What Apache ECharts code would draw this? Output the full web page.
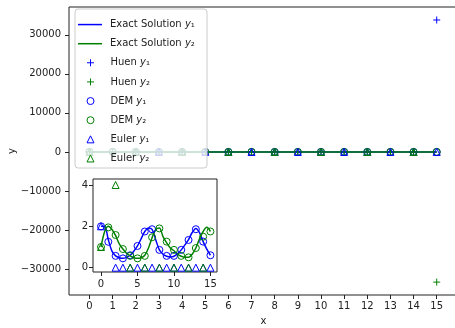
<!DOCTYPE html>
<html>
<head>
<meta charset="utf-8">
<script src="https://cdn.jsdelivr.net/npm/echarts@6/dist/echarts.min.js"></script>
<style>
  html, body { margin: 0; padding: 0; background: #fff; }
  #chart { width: 455px; height: 328px; }
</style>
</head>
<body>
<div id="chart"></div>
<script>
// sample points
const xInt = [0, 1, 2, 3, 4, 5, 6, 7, 8, 9, 10, 11, 12, 13, 14, 15];
const xFine = [0, 0.5, 1, 1.5, 2, 2.5, 3, 3.5, 4, 4.5, 5, 5.5, 6, 6.5, 7, 7.5,
  8, 8.5, 9, 9.5, 10, 10.5, 11, 11.5, 12, 12.5, 13, 13.5, 14, 14.5, 15];

// exact solution
const exactY1 = [2.0, 2.0, 1.35, 0.8, 0.57, 0.48, 0.45, 0.5, 0.6, 0.8, 1.05, 1.4, 1.75, 1.92, 1.85, 1.35,
  0.86, 0.65, 0.55, 0.52, 0.55, 0.68, 0.86, 1.1, 1.36, 1.7, 1.9, 1.7, 1.26, 0.9, 0.6];
const exactY2 = [1.0, 1.75, 2.0, 1.85, 1.55, 1.15, 0.9, 0.7, 0.57, 0.48, 0.45, 0.48, 0.6, 0.95, 1.45, 1.85,
  1.92, 1.5, 1.2, 0.95, 0.82, 0.65, 0.55, 0.5, 0.5, 0.65, 0.95, 1.4, 1.75, 1.95, 1.75];

// Huen: near zero until it blows up at x = 15
const huenY1 = [2.0, 1.4, 0.7, 0.5, 0.6, 1.1, 1.7, 1.8, 0.9, 0.6, 0.6, 0.9, 1.4, 1.8, 1.3, 33780];
const huenY2 = [1.0, 1.9, 1.5, 0.9, 0.6, 0.5, 0.6, 1.4, 1.9, 1.3, 0.9, 0.6, 0.5, 1.0, 1.5, -33320];

// DEM
const demY1 = [2.0, 1.25, 0.57, 0.45, 0.6, 1.05, 1.75, 1.86, 0.86, 0.57, 0.57, 0.86, 1.34, 1.86, 1.26, 0.6];
const demY2 = [1.0, 1.95, 1.58, 0.9, 0.57, 0.45, 0.57, 1.47, 1.9, 1.26, 0.86, 0.57, 0.5, 0.95, 1.5, 1.75];

// Euler
const eulerY1 = [2.0, null, 0, 0, 0, 0, 0, 0, 0, 0, 0, 0, 0, 0, 0, 0];
const eulerY2 = [1.0, null, 4.0, null, 0, null, 0, null, 0, null, 0, null, 0, null, 0, null];

// tick labels
const mainXTicks = [0, 1, 2, 3, 4, 5, 6, 7, 8, 9, 10, 11, 12, 13, 14, 15];
const mainYTicks = [-30000, -20000, -10000, 0, 10000, 20000, 30000];
const insetXTicks = [0, 5, 10, 15];
const insetYTicks = [0, 2, 4];

const BLUE = '#0000ff';
const GREEN = '#008000';
const FONT = 'DejaVu Sans';
const PLUS = 'path://M5,0 L5,10 M0,5 L10,5';

const pairs = (xs, ys) => xs.map((x, i) => [x, ys[i]]);
const minus = (v) => String(v).replace('-', '\u2212');

function valueAxis(gridIndex, min, max, ticks, extra) {
  return Object.assign({
    type: 'value',
    gridIndex: gridIndex,
    min: min,
    max: max,
    splitLine: { show: false },
    axisLine: { show: false, onZero: false },
    axisTick: { show: true, length: 4, customValues: ticks, lineStyle: { color: '#222' } },
    axisLabel: {
      customValues: ticks, color: '#222', fontFamily: FONT, fontSize: 10,
      formatter: minus
    }
  }, extra);
}

function lineSeries(name, ys, color, xi, yi) {
  return {
    name: name, type: 'line', xAxisIndex: xi, yAxisIndex: yi,
    data: pairs(xFine, ys), smooth: 0.3, symbol: 'none',
    lineStyle: { color: color, width: 1.5 }, itemStyle: { color: color },
    z: 2
  };
}

function markSeries(name, ys, color, symbol, xi, yi) {
  return {
    name: name, type: 'scatter', xAxisIndex: xi, yAxisIndex: yi,
    data: pairs(xInt, ys), symbol: symbol, symbolSize: 7,
    itemStyle: { color: 'rgba(0,0,0,0)', borderColor: color, borderWidth: 1, opacity: 1 },
    z: 3
  };
}

const subs = { '1': '\u2081', '2': '\u2082' };
const legendText = (pad) => ({
  fontFamily: FONT, fontSize: 10, color: '#222', lineHeight: 19.14, padding: [0, 0, 0, pad],
  rich: { i: { fontStyle: 'italic', fontFamily: FONT, fontSize: 10, color: '#222' } }
});
const legendFormat = (name) => name.replace(/ y(\d)$/, (m, d) => ' {i|y}' + subs[d]);

const option = {
  animation: false,
  backgroundColor: '#fff',
  grid: [
    { left: 69, right: -3, top: 7, bottom: 33, outerBoundsMode: 'none', show: true, borderColor: '#222', borderWidth: 1, backgroundColor: '#fff' },
    { left: 93, top: 179, width: 124, height: 93, outerBoundsMode: 'none', show: true, borderColor: '#222', borderWidth: 1, backgroundColor: '#fff', z: 5 }
  ],
  xAxis: [
    valueAxis(0, -0.886, 15.92, mainXTicks, {
      name: 'x', nameLocation: 'middle', nameGap: 21, nameMoveOverlap: false,
      nameTextStyle: { color: '#222', fontFamily: FONT, fontSize: 10 },
      axisLabel: { customValues: mainXTicks, color: '#222', fontFamily: FONT, fontSize: 10, margin: 6, formatter: minus }
    }),
    valueAxis(1, -1.1, 15.9, insetXTicks, {
      axisLabel: { customValues: insetXTicks, color: '#222', fontFamily: FONT, fontSize: 10, margin: 7 }
    })
  ],
  yAxis: [
    valueAxis(0, -36620, 37107, mainYTicks, {
      name: 'y', nameLocation: 'middle', nameGap: 52, nameMoveOverlap: false,
      nameTextStyle: { color: '#222', fontFamily: FONT, fontSize: 10 }
    }),
    valueAxis(1, -0.21, 4.29, insetYTicks, {
      axisLabel: { customValues: insetYTicks, color: '#222', fontFamily: FONT, fontSize: 10, margin: 5 }
    })
  ],
  // legend frame (semi-transparent like matplotlib's)
  graphic: [{
    type: 'rect', z: 4, silent: true,
    shape: { x: 75, y: 9, width: 132, height: 159, r: 3 },
    style: { fill: 'rgba(255,255,255,0.8)', stroke: '#cccccc', lineWidth: 1 }
  }],
  legend: [
    {
      left: 78, top: 15, orient: 'vertical', padding: 0,
      itemWidth: 24, itemHeight: 1.5, itemGap: 0, selectedMode: false, z: 5,
      icon: 'rect',
      textStyle: legendText(3), formatter: legendFormat,
      data: ['Exact Solution y1', 'Exact Solution y2']
    },
    {
      left: 86.5, top: 53.2, orient: 'vertical', padding: 0,
      itemWidth: 7, itemHeight: 7, itemGap: 0, selectedMode: false, z: 5,
      itemStyle: { borderWidth: 1 },
      textStyle: legendText(11.5), formatter: legendFormat,
      data: ['Huen y1', 'Huen y2', 'DEM y1', 'DEM y2', 'Euler y1', 'Euler y2']
    }
  ],
  series: [
    lineSeries('Exact Solution y1', exactY1, BLUE, 0, 0),
    lineSeries('Exact Solution y2', exactY2, GREEN, 0, 0),
    markSeries('Huen y1', huenY1, BLUE, PLUS, 0, 0),
    markSeries('Huen y2', huenY2, GREEN, PLUS, 0, 0),
    markSeries('DEM y1', demY1, BLUE, 'circle', 0, 0),
    markSeries('DEM y2', demY2, GREEN, 'circle', 0, 0),
    markSeries('Euler y1', eulerY1, BLUE, 'triangle', 0, 0),
    markSeries('Euler y2', eulerY2, GREEN, 'triangle', 0, 0),
    // inset
    Object.assign(lineSeries('Exact Solution y1', exactY1, BLUE, 1, 1), { z: 6 }),
    Object.assign(lineSeries('Exact Solution y2', exactY2, GREEN, 1, 1), { z: 6 }),
    Object.assign(markSeries('DEM y1', demY1, BLUE, 'circle', 1, 1), { z: 7 }),
    Object.assign(markSeries('DEM y2', demY2, GREEN, 'circle', 1, 1), { z: 7 }),
    Object.assign(markSeries('Euler y1', eulerY1, BLUE, 'triangle', 1, 1), { z: 7 }),
    Object.assign(markSeries('Euler y2', eulerY2, GREEN, 'triangle', 1, 1), { z: 7 })
  ]
};

const chart = echarts.init(document.getElementById('chart'));
chart.setOption(option);
</script>
</body>
</html>
